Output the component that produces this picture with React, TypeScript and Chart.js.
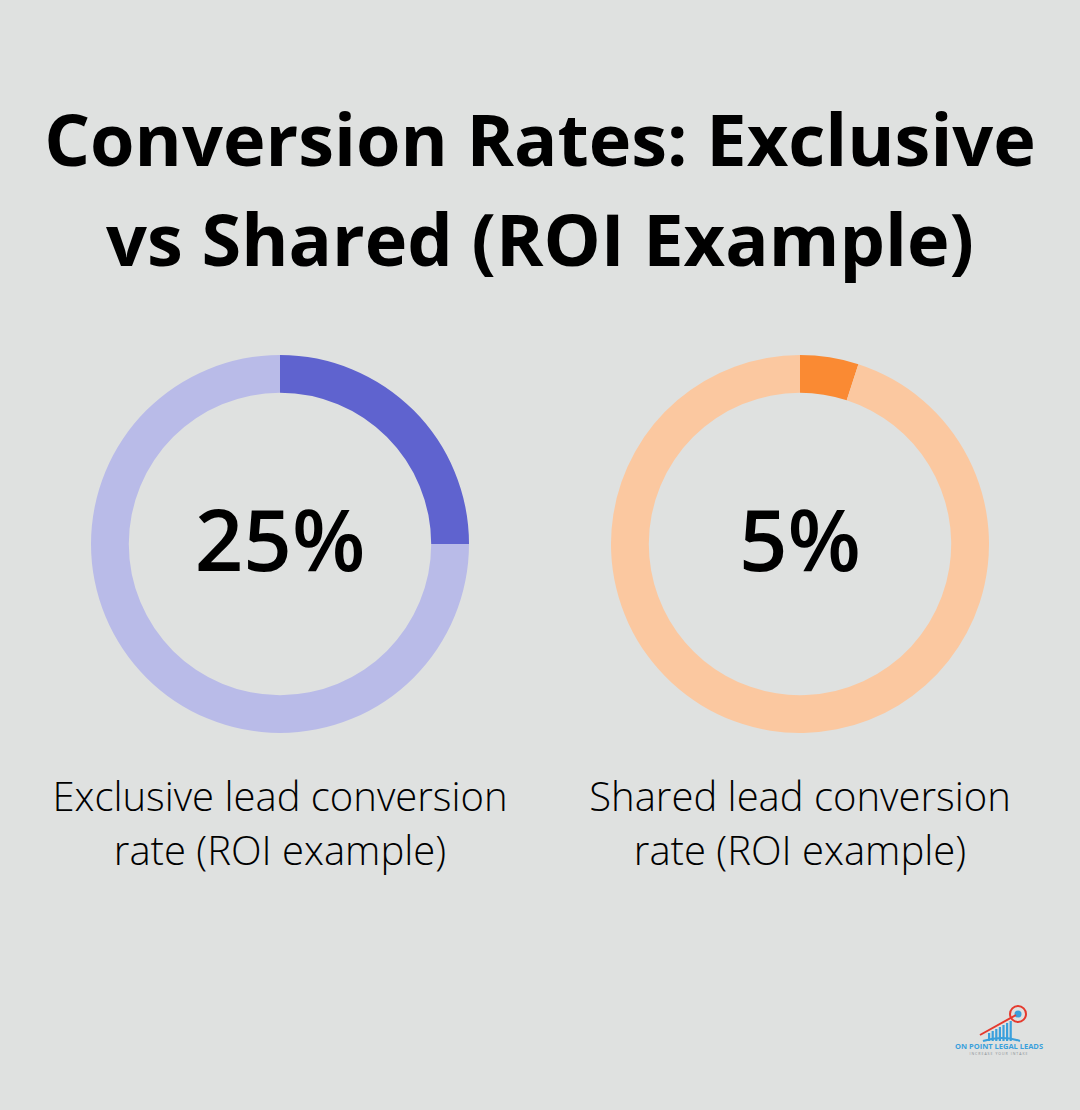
import React, { useEffect, useRef } from "react";
import { Chart, registerables } from "chart.js";

Chart.register(...registerables);

const titleLines = ["Conversion Rates: Exclusive", "vs Shared (ROI Example)"];
const categories = ["Exclusive", "Shared"];
const rates = [25, 5];
const valueLabels = ["25%", "5%"];
const captionLines = [
  ["Exclusive lead conversion", "rate (ROI example)"],
  ["Shared lead conversion", "rate (ROI example)"],
];
const mainColors = ["#5f63cf", "#fa8a33"];
const restColors = ["#b9bbe8", "#fbc8a0"];

const BG = "#dfe1e0";
const FONT = "'Open Sans', 'Noto Sans', sans-serif";

function Donut({ index }: { index: number }) {
  const ref = useRef<HTMLCanvasElement | null>(null);
  useEffect(() => {
    if (!ref.current) return;
    const centerText = {
      id: "centerText",
      afterDraw(chart: any) {
        const meta = chart.getDatasetMeta(0);
        const arc = meta.data[0];
        if (!arc) return;
        const { x, y } = arc;
        const ctx = chart.ctx;
        ctx.save();
        ctx.fillStyle = "#000";
        ctx.font = `600 85px ${FONT}`;
        ctx.textAlign = "center";
        ctx.textBaseline = "alphabetic";
        ctx.fillText(valueLabels[index], x, y + 27);
        ctx.restore();
      },
    };
    const chart = new Chart(ref.current, {
      type: "doughnut",
      data: {
        labels: [categories[index], "Other"],
        datasets: [
          {
            data: [rates[index], 100 - rates[index]],
            backgroundColor: [mainColors[index], restColors[index]],
            borderWidth: 0,
          },
        ],
      },
      options: {
        responsive: false,
        animation: false,
        cutout: "80%",
        layout: { padding: 0 },
        plugins: { legend: { display: false }, tooltip: { enabled: false } },
      },
      plugins: [centerText],
    });
    return () => chart.destroy();
  }, [index]);
  return <canvas ref={ref} width={378} height={378} style={{ width: 378, height: 378 }} />;
}

function Logo() {
  return (
    <svg width="100" height="70" viewBox="0 0 100 70" style={{ position: "absolute", left: 950, top: 995 }}>
      <circle cx="68" cy="19" r="8" fill="none" stroke="#e53a2e" strokeWidth="2" />
      <circle cx="68" cy="19" r="3.5" fill="#3aa0dc" />
      <line x1="30" y1="40" x2="66" y2="20" stroke="#e53a2e" strokeWidth="2" />
      {[0, 1, 2, 3, 4, 5, 6].map((i) => (
        <rect key={i} x={38 + i * 3.6} y={38 - i * 2} width="2.2" height={8 + i * 2} fill="#3aa0dc" />
      ))}
      <path d="M33 46 Q52 40 70 46" stroke="#3aa0dc" strokeWidth="2" fill="none" />
      <text x="49" y="54" textAnchor="middle" fontSize="7.5" fontWeight="700" fill="#3aa0dc" fontFamily={FONT}>
        ON POINT LEGAL LEADS
      </text>
      <text x="49" y="60" textAnchor="middle" fontSize="3.5" letterSpacing="1" fill="#8a8f95" fontFamily={FONT}>
        INCREASE YOUR INTAKE
      </text>
    </svg>
  );
}

export default function App() {
  const centers = [280, 800];
  return (
    <div
      style={{
        position: "absolute",
        left: 0,
        top: 0,
        width: 1080,
        height: 1110,
        background: BG,
        overflow: "hidden",
        fontFamily: FONT,
        color: "#000",
      }}
    >
      <div
        style={{
          position: "absolute",
          left: 0,
          top: 88,
          width: 1080,
          textAlign: "center",
          fontWeight: 700,
          fontSize: 72,
          lineHeight: "100px",
          whiteSpace: "nowrap",
        }}
      >
        {titleLines.map((l, i) => (
          <div key={i}>{l}</div>
        ))}
      </div>
      {centers.map((cx, i) => (
        <React.Fragment key={i}>
          <div style={{ position: "absolute", left: cx - 189, top: 355 }}>
            <Donut index={i} />
          </div>
          <div
            style={{
              position: "absolute",
              left: cx - 260,
              width: 520,
              top: 769,
              textAlign: "center",
              fontWeight: 300,
              fontSize: 40,
              lineHeight: "54px",
              whiteSpace: "nowrap",
            }}
          >
            {captionLines[i].map((l, j) => (
              <div key={j}>{l}</div>
            ))}
          </div>
        </React.Fragment>
      ))}
      <Logo />
    </div>
  );
}
